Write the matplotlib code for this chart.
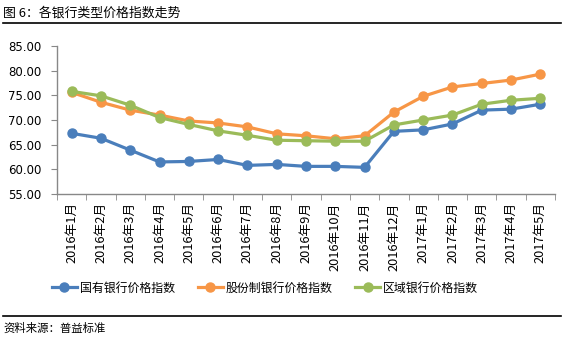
import matplotlib
matplotlib.use("Agg")
import matplotlib.pyplot as plt
from matplotlib.lines import Line2D

plt.rcParams['font.family'] = ['Noto Sans CJK SC', 'DejaVu Sans']

# Data
months = ["2016年1月", "2016年2月", "2016年3月", "2016年4月", "2016年5月", "2016年6月",
          "2016年7月", "2016年8月", "2016年9月", "2016年10月", "2016年11月", "2016年12月",
          "2017年1月", "2017年2月", "2017年3月", "2017年4月", "2017年5月"]
state_banks = [67.3, 66.3, 63.9, 61.5, 61.6, 62.0, 60.8, 61.0, 60.6, 60.6, 60.4,
               67.7, 68.0, 69.2, 72.0, 72.2, 73.2]
joint_stock = [75.6, 73.6, 72.0, 71.0, 69.8, 69.4, 68.6, 67.2, 66.8, 66.2, 66.8,
               71.6, 74.8, 76.7, 77.4, 78.1, 79.3]
regional = [75.8, 74.9, 73.0, 70.5, 69.1, 67.8, 66.9, 65.9, 65.8, 65.7, 65.7,
            69.0, 70.0, 71.0, 73.2, 74.0, 74.4]
series_names = ["国有银行价格指数", "股份制银行价格指数", "区域银行价格指数"]
y_ticks = [55, 60, 65, 70, 75, 80, 85]

W, H = 568, 342
fig = plt.figure(figsize=(W / 100, H / 100), dpi=100)
ax = fig.add_axes([57 / W, 1 - 194 / H, (555 - 57) / W, (194 - 46) / H])

colors = ['#4A7EBB', '#F79646', '#9BBB59']
x = list(range(len(months)))
for vals, c, name in zip([state_banks, joint_stock, regional], colors, series_names):
    ax.plot(x, vals, color=c, lw=2.3, marker='o', ms=6.5, label=name,
            solid_capstyle='round', solid_joinstyle='round')

ax.set_xlim(-0.5, len(months) - 0.5)
ax.set_ylim(55, 85)
ax.set_yticks(y_ticks)
ax.set_yticklabels([f"{v:.2f}" for v in y_ticks], fontsize=8.5, family='DejaVu Sans')
ax.set_xticks(x)
ax.set_xticklabels(months, rotation=90, fontsize=9.2, va='top')
ax.tick_params(axis='x', which='major', length=0, pad=6)
ax.set_xticks([i - 0.5 for i in range(len(months) + 1)], minor=True)
ax.tick_params(axis='x', which='minor', length=4, color='#888888')
ax.tick_params(axis='y', length=4, color='#888888', pad=7)

for s in ['top', 'right']:
    ax.spines[s].set_visible(False)
for s in ['left', 'bottom']:
    ax.spines[s].set_color('#888888')
    ax.spines[s].set_linewidth(1)

# Legend
handles = [Line2D([], [], color=c, lw=2.3, marker='o', ms=6.5) for c in colors]
fig.legend(handles, series_names, loc='center', bbox_to_anchor=(265 / W, 1 - 288 / H),
           ncol=3, frameon=False, fontsize=8.6, handlelength=2.1, handletextpad=0.25,
           columnspacing=1.9)

# Title and source
fig.text(3 / W, 1 - 13 / H, "图 6：各银行类型价格指数走势", fontsize=9.3, va='center', ha='left')
fig.add_artist(Line2D([3 / W, 561 / W], [1 - 23 / H, 1 - 23 / H], color='black', lw=1.2))
fig.add_artist(Line2D([3 / W, 561 / W], [1 - 316 / H, 1 - 316 / H], color='black', lw=1.2))
fig.text(3 / W, 1 - 328 / H, "资料来源：普益标准", fontsize=8.2, va='center', ha='left')

fig.savefig("out.png", dpi=100)
